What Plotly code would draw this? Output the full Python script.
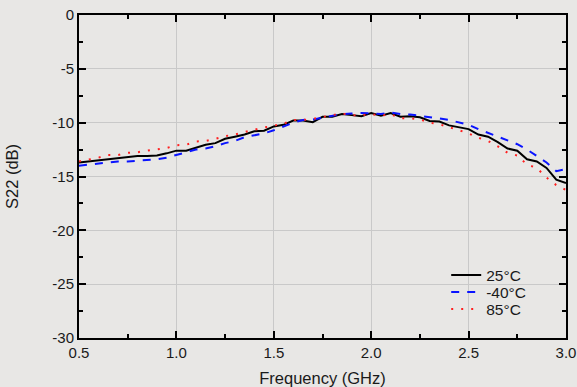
import plotly.graph_objects as go

freq = [round(0.5 + 0.05 * i, 2) for i in range(51)]

s22_25c = [-13.7, -13.6, -13.5, -13.4, -13.3, -13.15, -13.1, -13.1, -13.05, -12.85,
           -12.6, -12.6, -12.3, -12.05, -11.9, -11.5, -11.3, -11.1, -10.8, -10.75,
           -10.35, -10.2, -9.8, -9.8, -9.95, -9.45, -9.45, -9.2, -9.3, -9.4,
           -9.1, -9.35, -9.1, -9.45, -9.4, -9.5, -9.85, -9.9, -10.25, -10.45,
           -10.6, -11.1, -11.3, -11.8, -12.4, -12.6, -13.4, -13.6, -14.2, -15.3,
           -15.6]

s22_m40c = [-14.0, -13.9, -13.8, -13.7, -13.6, -13.6, -13.55, -13.5, -13.4, -13.25,
            -13.0, -12.8, -12.5, -12.4, -12.2, -11.9, -11.7, -11.35, -11.15, -11.0,
            -10.7, -10.35, -10.0, -9.75, -9.7, -9.55, -9.35, -9.2, -9.15, -9.1,
            -9.15, -9.2, -9.05, -9.2, -9.25, -9.35, -9.5, -9.6, -9.75, -9.95,
            -10.2, -10.6, -10.95, -11.3, -11.65, -12.0, -12.5, -13.1, -13.7, -14.5,
            -14.3]

s22_85c = [-13.6, -13.45, -13.25, -13.0, -13.0, -12.8, -12.75, -12.6, -12.5, -12.35,
           -12.1, -12.05, -11.75, -11.7, -11.5, -11.25, -11.1, -10.85, -10.65, -10.45,
           -10.25, -10.1, -9.75, -9.75, -9.65, -9.45, -9.3, -9.15, -9.3, -9.3,
           -9.2, -9.35, -9.2, -9.6, -9.6, -9.7, -10.0, -10.15, -10.4, -10.7,
           -11.0, -11.4, -11.7, -12.2, -12.8, -13.05, -13.9, -14.2, -15.1, -15.8,
           -16.25]

x_ticks = [0.5, 1.0, 1.5, 2.0, 2.5, 3.0]
x_tick_labels = ["0.5", "1.0", "1.5", "2.0", "2.5", "3.0"]
y_ticks = [0, -5, -10, -15, -20, -25, -30]
y_tick_labels = ["0", "-5", "-10", "-15", "-20", "-25", "-30"]

FONT = "Liberation Sans, Arial, sans-serif"
BG = "#e8e7e5"

fig = go.Figure()
fig.add_trace(go.Scatter(x=freq, y=s22_25c, mode="lines", name="25°C", legend="legend",
                         line=dict(color="#000000", width=2, dash="solid")))
fig.add_trace(go.Scatter(x=freq, y=s22_m40c, mode="lines", name="-40°C", legend="legend2",
                         line=dict(color="#0a14ff", width=2, dash="8px,8px")))
fig.add_trace(go.Scatter(x=freq, y=s22_85c, mode="lines", name="85°C", legend="legend3",
                         line=dict(color="#ff2020", width=2, dash="2px,8px")))

axis_common = dict(
    showline=True, linecolor="#000000", linewidth=2, mirror="ticks",
    ticks="inside", ticklen=7, tickwidth=1.5, tickcolor="#000000",
    showgrid=True, gridcolor="#c9c9c9", gridwidth=1, zeroline=False,
    automargin=False,
    tickfont=dict(family=FONT, size=15, color="#1a1a1a"),
)

legend_common = dict(xanchor="left", yanchor="top", x=0.754,
                     bgcolor="rgba(0,0,0,0)", borderwidth=0,
                     font=dict(family=FONT, size=15.5, color="#1a1a1a"),
                     itemwidth=30)

fig.update_layout(
    width=577, height=387,
    margin=dict(l=79, r=11, t=15, b=49, autoexpand=False),
    paper_bgcolor=BG, plot_bgcolor=BG,
    font=dict(family=FONT, color="#1a1a1a"),
    xaxis=dict(range=[0.5, 3.0], tickvals=x_ticks, ticktext=x_tick_labels,
               title=dict(text="Frequency (GHz)", font=dict(family=FONT, size=16.5), standoff=16),
               minor=dict(dtick=0.25, ticks="inside", ticklen=4, tickcolor="#000000", showgrid=False),
               **axis_common),
    yaxis=dict(range=[-30, 0], tickvals=y_ticks, ticktext=y_tick_labels,
               title=dict(text="S22 (dB)", font=dict(family=FONT, size=16.5), standoff=30),
               minor=dict(dtick=2.5, ticks="inside", ticklen=4, tickcolor="#000000", showgrid=False),
               **axis_common),
    legend=dict(y=0.2464, **legend_common),
    legend2=dict(y=0.1938, **legend_common),
    legend3=dict(y=0.1412, **legend_common),
    showlegend=True,
)

fig.write_html("out.html")
